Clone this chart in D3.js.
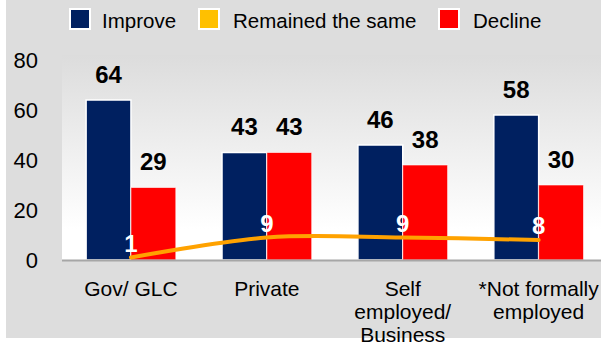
<!DOCTYPE html>
<html><head><meta charset="utf-8">
<script src="https://cdn.jsdelivr.net/npm/d3@7"></script>
<style>
html,body{margin:0;padding:0;background:#fff;}
svg{display:block;font-family:"Liberation Sans",Arial,sans-serif;}
</style></head>
<body>
<svg id="c" width="602" height="345"></svg>
<script>
const categories = ["Gov/ GLC", "Private", "Self employed/ Business", "*Not formally employed"];
const categoryLines = [["Gov/ GLC"], ["Private"], ["Self", "employed/", "Business"], ["*Not formally", "employed"]];
const improve = [64, 43, 46, 58];
const remainedSame = [1, 9, 9, 8];
const decline = [29, 43, 38, 30];
const yTicks = [0, 20, 40, 60, 80];
const seriesNames = ["Improve", "Remained the same", "Decline"];
const seriesColors = ["#002060", "#ffc000", "#ff0000"];
const lineColor = "#ffa200";

const svg = d3.select("#c");
const defs = svg.append("defs");
const grad = defs.append("linearGradient").attr("id","pg").attr("x1",0).attr("y1",0).attr("x2",0).attr("y2",1);
grad.append("stop").attr("offset","0%").attr("stop-color","#dcdcdc");
grad.append("stop").attr("offset","85%").attr("stop-color","#ffffff");
grad.append("stop").attr("offset","100%").attr("stop-color","#ffffff");

// background
svg.append("rect").attr("x",6).attr("y",0).attr("width",595).attr("height",338).attr("fill","#dddddd");

const y = d3.scaleLinear().domain([0,80]).range([260,60]);
const x0 = d3.scaleBand().domain(categories).range([63,606.6]).paddingInner(0.34).paddingOuter(0.17);
const x1 = d3.scaleBand().domain(["improve","decline"]).range([0, x0.bandwidth()]);

// plot area
svg.append("rect").attr("x",62).attr("y",55).attr("width",539).attr("height",205).attr("fill","url(#pg)");

// y axis
const yAxis = svg.append("g").attr("transform","translate(38,0)")
  .call(d3.axisLeft(y).tickValues(yTicks).tickSize(0).tickPadding(0).tickFormat(d3.format("d")));
yAxis.select(".domain").remove();
yAxis.selectAll("text").attr("font-size",22).attr("font-family","Liberation Sans, Arial, sans-serif").attr("fill","#000").attr("dy","0.36em");

// bars
const groups = svg.append("g").selectAll("g").data(categories).join("g")
  .attr("transform", c => `translate(${x0(c)},0)`);
groups.append("rect").attr("x", x1("improve")).attr("width", x1.bandwidth())
  .attr("y", (c,i) => y(improve[i])).attr("height", (c,i) => y(0) - y(improve[i]))
  .attr("fill", seriesColors[0]).attr("stroke","#fff").attr("stroke-width",1.5);
groups.append("rect").attr("x", x1("decline")).attr("width", x1.bandwidth())
  .attr("y", (c,i) => y(decline[i])).attr("height", (c,i) => y(0) - y(decline[i]))
  .attr("fill", seriesColors[2]).attr("stroke","#fff").attr("stroke-opacity",0.6).attr("stroke-width",1);

// x axis
const xAxis = svg.append("g").attr("transform",`translate(0,${y(0)})`)
  .call(d3.axisBottom(x0).tickSize(0).tickFormat(""));
xAxis.select(".domain").attr("d","M62,0.5H601").attr("stroke","#a6a6a6").attr("stroke-width",2);
xAxis.selectAll(".tick text").remove();
xAxis.selectAll(".tick").each(function(c,i){
  const t = d3.select(this).append("text").attr("text-anchor","middle").attr("font-size",21).attr("fill","#000");
  categoryLines[i].forEach((ln,j)=> t.append("tspan").attr("x",0).attr("y",36 + j*23).text(ln));
});

// value labels
groups.append("text").attr("text-anchor","middle").attr("font-weight","bold").attr("font-size",24)
  .attr("x", x1("improve") + x1.bandwidth()/2).attr("y",(c,i)=> y(improve[i]) - 17.5).text((c,i)=>improve[i]);
groups.append("text").attr("text-anchor","middle").attr("font-weight","bold").attr("font-size",24)
  .attr("x", x1("decline") + x1.bandwidth()/2).attr("y",(c,i)=> y(decline[i]) - 17.5).text((c,i)=>decline[i]);

// line
const cx = c => x0(c) + x0.bandwidth()/2;
const line = d3.line().x((d,i)=>cx(categories[i])).y(d=>y(d)).curve(d3.curveCardinal.tension(0));
svg.append("path").datum(remainedSame).attr("d", line).attr("fill","none")
  .attr("stroke", lineColor).attr("stroke-width",4).attr("stroke-linecap","round");
svg.append("g").selectAll("text").data(remainedSame).join("text")
  .attr("text-anchor","middle").attr("font-weight","bold").attr("font-size",24).attr("fill","#fff")
  .attr("x",(d,i)=>cx(categories[i])).attr("y", d => y(d) - 6).text(d=>d);

// legend
const legX = [70, 199, 439];
const legTX = [102, 233, 473];
const leg = svg.append("g");
seriesNames.forEach((n,i)=>{
  leg.append("rect").attr("x",legX[i]).attr("y",9).attr("width",20).attr("height",20)
    .attr("fill",seriesColors[i]).attr("stroke","#fff").attr("stroke-width",2);
  leg.append("text").attr("x",legTX[i]).attr("y",27.5).attr("font-size",20.5).attr("fill","#000").text(n);
});
</script>
</body></html>
